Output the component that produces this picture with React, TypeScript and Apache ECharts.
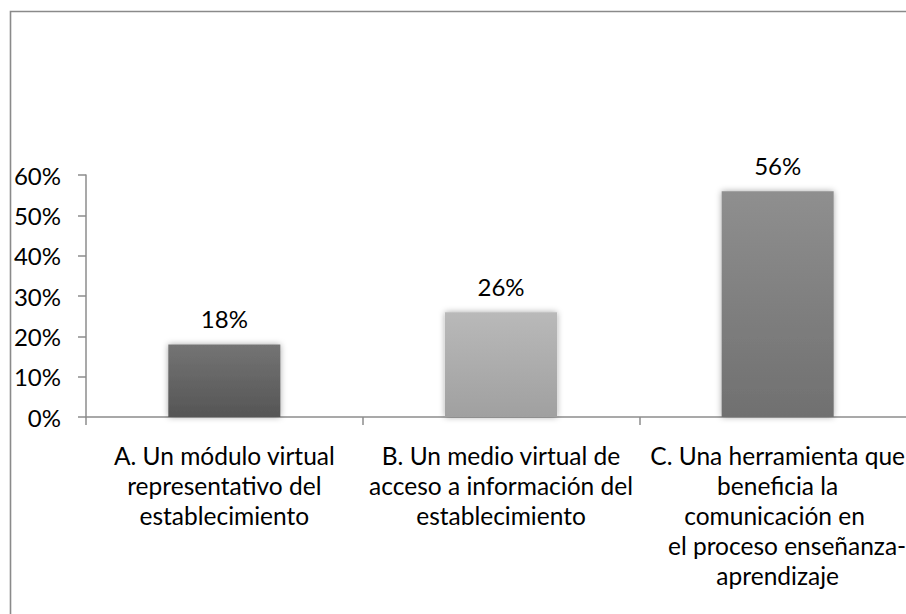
import React, { useEffect, useRef } from "react";
import * as echarts from "echarts";

const categories = [
  "A. Un módulo virtual\nrepresentativo del\nestablecimiento",
  "B. Un medio virtual de\nacceso a información del\nestablecimiento",
  "C. Una herramienta que\nbeneficia la\ncomunicación en\u00a0\n\u00a0\u00a0\u00a0el proceso enseñanza-\naprendizaje",
];
const values = [0.18, 0.26, 0.56];
const barTopColors = ["#747474", "#b9b9b9", "#8f8f8f"];
const barBottomColors = ["#555555", "#a0a0a0", "#707070"];
const yTicks = [0, 0.1, 0.2, 0.3, 0.4, 0.5, 0.6];

const FONT = "Lato";

export default function App() {
  const ref = useRef<HTMLDivElement>(null);
  useEffect(() => {
    if (!ref.current) return;
    const chart = echarts.init(ref.current, null, { renderer: "svg" });
    chart.setOption({
      animation: false,
      backgroundColor: "#ffffff",
      textStyle: { fontFamily: FONT },
      graphic: [
        {
          type: "rect",
          shape: { x: 10.5, y: 11.5, width: 1000, height: 1000 },
          style: { fill: "none", stroke: "#8a8a8a", lineWidth: 1.6 },
          silent: true,
        },
      ],
      grid: {
        left: 86,
        top: 175,
        width: 830,
        height: 242,
        containLabel: false,
        outerBoundsMode: "none",
      },
      xAxis: {
        type: "category",
        data: categories,
        boundaryGap: true,
        axisLine: { lineStyle: { color: "#8c8c8c", width: 1.5 } },
        axisTick: { show: true, length: 8, lineStyle: { color: "#8c8c8c", width: 1.5 }, alignWithLabel: false },
        axisLabel: {
          interval: 0,
          color: "#000000",
          fontSize: 24.5,
          lineHeight: 30,
          fontFamily: FONT,
          margin: 23,
          hideOverlap: false,
        },
      },
      yAxis: {
        type: "value",
        min: 0,
        max: 0.6,
        interval: 0.1,
        splitLine: { show: false },
        axisLine: { show: true, lineStyle: { color: "#8c8c8c", width: 1.5 } },
        axisTick: { show: true, length: 8, lineStyle: { color: "#8c8c8c", width: 1.5 } },
        axisLabel: {
          color: "#000000",
          fontSize: 24,
          fontFamily: FONT,
          margin: 25,
          formatter: (v: number) => {
            const idx = yTicks.findIndex((t) => Math.abs(t - v) < 1e-9);
            return idx >= 0 ? Math.round(yTicks[idx] * 100) + "%" : "";
          },
        },
      },
      series: [
        {
          type: "bar",
          barWidth: "40.5%",
          data: values.map((v, i) => ({
            value: v,
            itemStyle: {
              color: new echarts.graphic.LinearGradient(0, 0, 0, 1, [
                { offset: 0, color: barTopColors[i] },
                { offset: 1, color: barBottomColors[i] },
              ]),
              shadowColor: "rgba(0,0,0,0.35)",
              shadowBlur: 6,
            },
          })),
          label: {
            show: true,
            position: "top",
            distance: 14,
            color: "#000000",
            fontSize: 24,
            fontFamily: FONT,
            formatter: (p: any) => Math.round(p.value * 100) + "%",
          },
        },
      ],
    });
    return () => chart.dispose();
  }, []);
  return (
    <div
      ref={ref}
      style={{ position: "fixed", left: 0, top: 0, width: 906, height: 614, background: "#fff" }}
    />
  );
}
